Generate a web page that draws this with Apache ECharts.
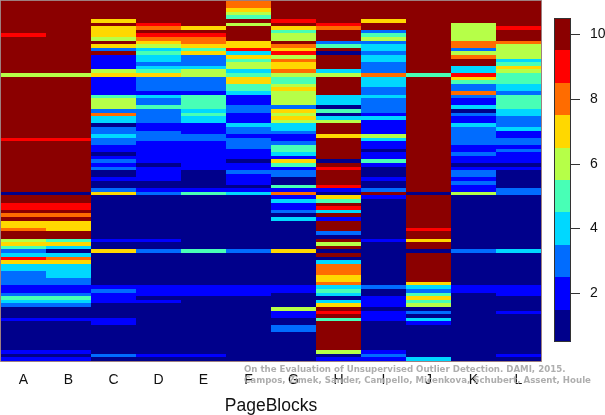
<!DOCTYPE html>
<html><head><meta charset="utf-8">
<style>html,body{margin:0;padding:0;background:#fff}#c{width:605px;height:415px}</style>
<script src="https://cdn.jsdelivr.net/npm/echarts@6/dist/echarts.min.js"></script>
</head><body><div id="c"></div>
<script>
const categories = ['A','B','C','D','E','F','G','H','I','J','K','L'];
const colA = [10,10,10,10,10,10,10,10,10,9, 10,10,10,10,10,10,10,10,10,10, 6,10,10,10,10,10,10,10,10,10, 10,10,10,10,10,10,10,10,9,10,
 10,10,10,10,10,10,10,10,10,10, 10,10,10,1,10,10,9,9,10,8, 10,7,7,8,10,10,6,7,5,3, 4,9,7,4,4,3,3,3,3,2, 2,3,5,4,3,1,1,1,2,1, 1,1,1,1,1,1,1,2,1,2];
const colB = [10,10,10,10,10,10,10,10,10,10, 10,10,10,10,10,10,10,10,10,10, 6,10,10,10,10,10,10,10,10,10, 10,10,10,10,10,10,10,10,9,10,
 10,10,10,10,10,10,10,10,10,10, 10,10,10,1,10,10,9,9,10,8, 10,7,7,7,10,10,5,7,4,1, 4,8,7,4,4,4,4,3,3,2, 2,3,5,4,3,1,1,1,2,1, 1,1,1,1,1,1,1,2,1,2];
const colC = [10,10,10,10,10,7,10,7,7,7, 6,10,7,3,10,2,2,2,2,6, 7,2,2,2,2,2,5,6,6,6, 3,8,4,4,1,3,3,4,3,3,
 2,2,1,2,3,2,3,1,1,2, 1,1,3,7,1,1,1,1,1,1, 1,1,1,1,1,1,2,1,1,7, 1,1,1,1,1,1,1,1,1,2, 3,2,2,2,1,1,1,1,2,2, 1,1,1,1,1,1,1,1,3,1];
const colD = [10,10,10,10,10,10,9,8,10,9, 8,7,6,4,5,4,4,3,4,5, 7,3,3,3,3,2,4,3,3,5, 3,3,3,3,2,2,3,3,3,2,
 2,2,2,2,2,1,2,2,2,2, 1,1,2,3,1,1,1,1,1,1, 1,1,1,1,1,1,2,1,1,3, 1,1,1,1,1,1,1,1,1,2, 2,2,1,2,1,1,1,1,1,1, 1,1,1,1,1,1,1,1,2,1];
const colE = [10,10,10,10,10,10,10,7,10,9, 8,8,7,5,7,3,3,3,4,6, 6,3,3,3,3,2,5,5,5,5, 4,5,4,4,2,2,2,3,3,2,
 2,2,2,2,2,2,2,1,1,1, 1,1,2,5,1,1,1,1,1,1, 1,1,1,1,1,1,1,1,1,5, 1,1,1,1,1,1,1,1,1,2, 2,2,1,1,1,1,1,1,1,1, 1,1,1,1,1,1,1,1,2,1];
const colF = [8,8,7,6,5,10,6,10,10,10, 10,7,7,9,4,7,5,6,6,4, 5,7,7,5,5,4,2,2,2,3, 3,2,2,2,4,3,3,2,3,3,
 3,2,2,2,1,2,2,3,2,2, 2,1,2,4,1,1,1,1,1,1, 1,1,1,1,1,1,1,1,1,3, 1,1,1,1,1,1,1,1,1,2, 2,2,1,1,1,1,1,1,1,1, 1,1,1,1,1,1,1,1,1,1];
const colG = [10,10,10,10,10,9,10,7,5,6, 6,10,8,7,9,6,8,7,7,8, 6,5,5,6,7,6,6,6,6,3, 7,6,7,6,4,4,3,2,2,3,
 5,5,4,2,7,5,2,3,3,1, 1,5,2,8,2,4,2,2,3,1, 4,1,1,1,1,1,1,1,1,7, 1,1,1,1,1,1,1,1,1,2, 2,1,1,1,1,6,2,2,1,1, 3,3,1,1,1,1,1,1,1,1];
const colH = [10,10,10,10,10,10,9,8,10,10, 10,3,5,10,1,10,10,10,10,4, 6,10,10,10,10,10,4,4,4,1, 5,1,4,6,10,10,10,7,10,10,
 10,10,10,10,1,10,9,10,10,10, 10,9,2,1,7,5,10,9,4,10, 2,10,10,10,3,1,10,6,10,1, 10,1,4,8,8,8,7,7,8,4, 5,4,1,4,7,10,9,10,5,10, 10,10,10,10,10,10,10,6,1,2];
const colI = [10,10,10,10,10,7,10,10,3,5, 6,3,4,4,3,4,4,3,3,3, 8,4,4,4,3,3,4,3,3,3, 3,2,4,2,2,2,2,6,4,2,
 2,1,2,2,5,2,1,1,1,2, 1,1,3,10,2,1,1,1,1,1, 1,1,1,1,1,1,2,1,1,1, 1,1,1,1,1,1,1,1,1,3, 1,1,2,2,2,1,2,2,2,1, 1,1,1,1,1,1,1,2,3,2];
const colJ = [10,10,10,10,10,10,10,10,10,10, 10,10,10,10,10,10,10,10,10,10, 5,10,10,10,10,10,10,10,10,10, 10,10,10,10,10,10,10,10,10,10,
 10,10,10,10,10,10,10,10,10,10, 10,10,10,1,10,10,10,10,10,10, 10,10,10,9,10,10,7,10,10,1, 10,10,10,10,10,10,10,10,7,4, 3,5,7,5,6,1,3,1,4,2, 1,1,1,1,1,1,1,1,1,4];
const colK = [10,10,10,10,10,10,6,6,6,6, 6,8,8,3,6,8,10,10,4,4, 9,7,5,3,3,8,3,2,2,4, 1,3,2,2,4,3,3,3,3,3,
 2,2,3,2,2,1,2,3,3,2, 3,2,2,6,1,1,1,1,1,1, 1,1,1,1,1,1,1,1,1,3, 1,1,1,1,1,1,1,1,1,2, 2,1,1,1,1,1,1,1,1,1, 1,1,1,1,1,1,1,1,1,1];
const colL = [10,10,10,10,10,10,10,9,10,10, 10,8,6,6,6,6,4,5,7,6, 5,5,5,4,4,3,5,5,5,5, 4,4,3,3,3,4,2,2,3,3,
 2,3,2,2,2,1,2,1,1,1, 1,1,3,3,1,1,1,1,1,1, 1,1,1,1,1,1,1,1,1,4, 1,1,1,1,1,1,1,1,1,2, 2,2,1,1,1,1,2,1,1,1, 1,1,1,1,1,1,1,1,2,1];
const columns = [colA,colB,colC,colD,colE,colF,colG,colH,colI,colJ,colK,colL];
const levels = [1,2,3,4,5,6,7,8,9,10];
const tickLabels = ['2','4','6','8','10'];
const palette = ['#00008B','#0000FF','#006CFF','#00D8FF','#48FFB6','#B6FF48','#FFD800','#FF6C00','#FF0000','#8B0000'];
const xTitle = 'PageBlocks';
const credits = ['On the Evaluation of Unsupervised Outlier Detection. DAMI, 2015.',
                 'Campos, Zimek, Sander, Campello, Micenkova, Schubert, Assent, Houle'];

const rowCount = colA.length;
const rows = Array.from({length: rowCount}, (_, i) => String(i));
const cells = [];
columns.forEach((col, c) => col.forEach((v, r) => cells.push([c, r, v])));
const barCells = levels.map((v, i) => [0, i, v]);

// Cells are placed through the axes; edges are snapped to whole pixels so no seams appear.
function renderCell(params, api) {
  const p = api.coord([api.value(0), api.value(1)]);
  const s = api.size([1, 1]);
  const x0 = Math.round(p[0] - s[0] / 2), x1 = Math.round(p[0] + s[0] / 2);
  const y0 = Math.round(p[1] - s[1] / 2), y1 = Math.round(p[1] + s[1] / 2);
  return {type: 'rect', shape: {x: x0, y: y0, width: x1 - x0, height: y1 - y0},
          style: {fill: palette[api.value(2) - 1]}};
}

const chart = echarts.init(document.getElementById('c'), null, {renderer: 'canvas'});
const SANS = '"Liberation Sans", Arial, sans-serif';
chart.setOption({
  animation: false,
  backgroundColor: '#fff',
  grid: [
    {left: 1, top: 1, width: 540, height: 360, show: false, outerBoundsMode: 'none'},
    {left: 554, top: 18, width: 17, height: 324, show: false, outerBoundsMode: 'none'}
  ],
  xAxis: [
    {type: 'category', gridIndex: 0, data: categories, position: 'bottom',
     axisLine: {show: false}, axisTick: {show: false}, splitLine: {show: false},
     axisLabel: {color: '#111', fontFamily: SANS, fontSize: 14, margin: 12, interval: 0},
     name: xTitle, nameLocation: 'center', nameGap: 36,
     nameTextStyle: {color: '#111', fontFamily: SANS, fontSize: 17.5}},
    {type: 'category', gridIndex: 1, data: [''], axisLine: {show: false}, axisTick: {show: false}, axisLabel: {show: false}}
  ],
  yAxis: [
    {type: 'category', gridIndex: 0, data: rows, inverse: true, axisLine: {show: false}, axisTick: {show: false},
     axisLabel: {show: false}, splitLine: {show: false}},
    {type: 'category', gridIndex: 1, data: levels.map(String), position: 'right',
     axisLine: {show: false},
     axisTick: {show: true, alignWithLabel: true, length: 9, lineStyle: {color: '#333', width: 1},
                interval: (i, v) => tickLabels.includes(v)},
     axisLabel: {show: true, color: '#111', fontFamily: SANS, fontSize: 14, margin: 19,
                 interval: (i, v) => tickLabels.includes(v)},
     splitLine: {show: false}}
  ],
  series: [
    {type: 'custom', xAxisIndex: 0, yAxisIndex: 0, data: cells, silent: true, renderItem: renderCell,
     progressive: 0, encode: {x: 0, y: 1}, z: 1},
    {type: 'custom', xAxisIndex: 1, yAxisIndex: 1, data: barCells, silent: true, renderItem: renderCell,
     progressive: 0, encode: {x: 0, y: 1}, z: 1}
  ],
  graphic: [
    {type: 'rect', z: 50, silent: true, shape: {x: 0.5, y: 0.5, width: 541, height: 361},
     style: {fill: 'none', stroke: 'rgba(60,0,0,0.5)', lineWidth: 1}},
    {type: 'rect', z: 50, silent: true, shape: {x: 554.5, y: 18.5, width: 16, height: 323},
     style: {fill: 'none', stroke: '#333', lineWidth: 1}}
  ].concat(credits.map((t, i) => ({
    type: 'text', left: 244, top: 365 + i * 11, z: 100, silent: true,
    style: {text: t, fill: 'rgba(165,165,165,0.9)', font: 'bold 8.65px "DejaVu Sans"'}
  })))
});
</script></body></html>
